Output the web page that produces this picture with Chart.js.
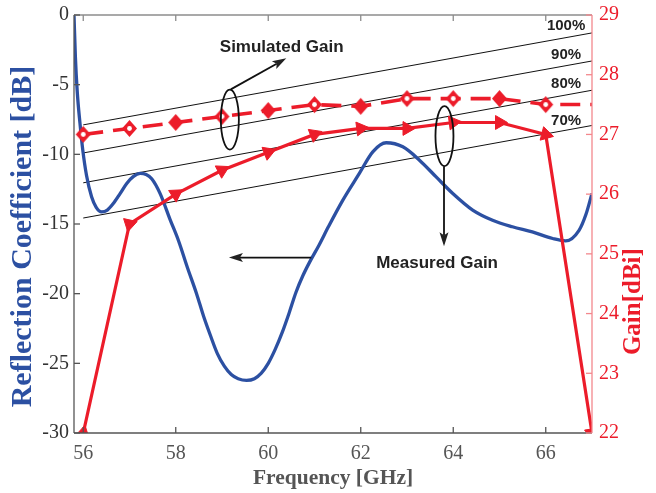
<!DOCTYPE html>
<html>
<head>
<meta charset="utf-8">
<script src="https://cdn.jsdelivr.net/npm/chart.js@4.4.1/dist/chart.umd.min.js"></script>
<style>
  html, body { margin: 0; padding: 0; background: #fff; }
  #wrap { width: 656px; height: 493px; }
</style>
</head>
<body>
<div id="wrap"><canvas id="myChart" width="656" height="493"></canvas></div>
<script>
// Reflection coefficient (blue curve)
var s11Freq = [55.8, 55.83, 55.87, 55.93, 55.99, 56.07, 56.18, 56.28, 56.4, 56.52, 56.65, 56.8, 56.94, 57.08, 57.23, 57.36, 57.48, 57.66, 57.88, 58.06, 58.25, 58.45, 58.6, 58.75, 58.9, 59.05, 59.2, 59.35, 59.53, 59.7, 59.85, 60.0, 60.15, 60.3, 60.45, 60.6, 60.75, 60.9, 61.1, 61.3, 61.61, 61.97, 62.26, 62.55, 62.91, 63.27, 63.63, 63.99, 64.42, 64.85, 65.28, 65.71, 66.15, 66.43, 66.72, 66.87, 67.0];
var s11Db = [0, -3, -5.5, -7.8, -9.7, -11.5, -13.05, -13.8, -14.13, -14.0, -13.53, -12.8, -12.09, -11.6, -11.37, -11.45, -11.75, -12.8, -14.7, -16.2, -18.1, -20.0, -21.6, -23.0, -24.3, -25.2, -25.8, -26.1, -26.22, -26.1, -25.7, -25.0, -24.0, -22.8, -21.4, -19.9, -18.7, -17.7, -16.5, -15.2, -13.3, -11.37, -9.82, -9.17, -9.46, -10.42, -11.62, -12.81, -14.0, -14.73, -15.2, -15.57, -16.04, -16.21, -15.45, -14.3, -12.8];

// Gain curves (right axis)
var gainFreq = [56, 57, 58, 59, 60, 61, 62, 63, 64, 65, 66, 67];
var measuredGain = [22, 25.5, 26.0, 26.4, 26.7, 27.0, 27.1, 27.1, 27.2, 27.2, 27.0, 22];
var simulatedGain = [27.0, 27.1, 27.2, 27.3, 27.4, 27.5, 27.47, 27.6, 27.6, 27.6, 27.5, 27.5];

// aperture efficiency reference lines, gain at both ends
var effLabels = ["100%", "90%", "80%", "70%"];
var effFreq = [56, 67];
var effStart = [27.16, 26.69, 26.19, 25.6];
var effEnd = [28.7, 28.23, 27.74, 27.15];

// tick labels
var xTicks = [56, 58, 60, 62, 64, 66];
var yTicks = [-30, -25, -20, -15, -10, -5, 0];
var y2Ticks = [22, 23, 24, 25, 26, 27, 28, 29];

var BLUE = "#2c50a2";
var RED = "#ec1c2a";
var SERIF = "'Liberation Serif', 'DejaVu Serif', serif";
var SANS = "'Liberation Sans', Arial, sans-serif";

function xy(xs, ys) {
  var out = [];
  for (var i = 0; i < xs.length; i++) out.push({ x: xs[i], y: ys[i] });
  return out;
}

// diamond markers, some with a white dot inside
function diamond(dot) {
  var c = document.createElement("canvas");
  c.width = 17;
  c.height = 19;
  var g = c.getContext("2d");
  g.fillStyle = RED;
  g.beginPath();
  g.moveTo(8.5, 1);
  g.lineTo(16, 9.5);
  g.lineTo(8.5, 18);
  g.lineTo(1, 9.5);
  g.closePath();
  g.fill();
  if (dot) {
    g.fillStyle = "#fff";
    g.beginPath();
    g.arc(8.5, 9.5, 2.4, 0, Math.PI * 2);
    g.fill();
  }
  return c;
}
var diamondDot = diamond(true);
var diamondFull = diamond(false);
var hollowIdx = [0, 1, 3, 5, 7, 8, 10];

// triangles follow the line direction
function triRotation(ctx) {
  var chart = ctx.chart;
  var xs = chart.scales.x, ys = chart.scales.y2;
  var i = ctx.dataIndex;
  var a = i === 0 ? 0 : i - 1;
  var b = i === 0 ? 1 : i;
  var dx = xs.getPixelForValue(gainFreq[b]) - xs.getPixelForValue(gainFreq[a]);
  var dy = ys.getPixelForValue(measuredGain[b]) - ys.getPixelForValue(measuredGain[a]);
  var ang = Math.atan2(dy, dx) * 180 / Math.PI + 90;
  if (i === 1) ang += 180;
  return ang;
}

function seg(ctx, x1, y1, x2, y2) {
  ctx.beginPath();
  ctx.moveTo(x1, y1);
  ctx.lineTo(x2, y2);
  ctx.stroke();
}

function arrow(ctx, x1, y1, x2, y2) {
  var ang = Math.atan2(y2 - y1, x2 - x1);
  var len = 14, half = 4.5;
  var bx = x2 - Math.cos(ang) * len, by = y2 - Math.sin(ang) * len;
  seg(ctx, x1, y1, bx + Math.cos(ang) * 3, by + Math.sin(ang) * 3);
  ctx.beginPath();
  ctx.moveTo(x2, y2);
  ctx.lineTo(bx - Math.sin(ang) * half, by + Math.cos(ang) * half);
  ctx.lineTo(bx + Math.cos(ang) * 3, by + Math.sin(ang) * 3);
  ctx.lineTo(bx + Math.sin(ang) * half, by - Math.cos(ang) * half);
  ctx.closePath();
  ctx.fill();
}

var decor = {
  id: "decor",
  afterDraw: function (chart) {
    var ctx = chart.ctx, a = chart.chartArea;
    var x = chart.scales.x, y = chart.scales.y, y2 = chart.scales.y2;
    var px = function (v) { return x.getPixelForValue(v); };
    var py = function (v) { return y.getPixelForValue(v); };
    ctx.save();

    // box and inward ticks
    ctx.lineWidth = 1.3;
    ctx.strokeStyle = "#8c8c8c";
    seg(ctx, a.left, a.top, a.right, a.top);
    ctx.strokeStyle = "#555";
    seg(ctx, a.left, a.bottom, a.right, a.bottom);
    seg(ctx, a.left, a.top, a.left, a.bottom);
    xTicks.forEach(function (v) {
      seg(ctx, px(v), a.bottom, px(v), a.bottom - 6);
    });
    yTicks.forEach(function (v) {
      seg(ctx, a.left, py(v), a.left + 6, py(v));
    });
    ctx.strokeStyle = "#8c8c8c";
    xTicks.forEach(function (v) {
      seg(ctx, px(v), a.top, px(v), a.top + 6);
    });
    ctx.strokeStyle = "#f3878d";
    seg(ctx, a.right, a.top, a.right, a.bottom);
    y2Ticks.forEach(function (v) {
      var p = y2.getPixelForValue(v);
      seg(ctx, a.right, p, a.right - 6, p);
    });

    // axis titles
    ctx.textAlign = "center";
    ctx.textBaseline = "middle";
    ctx.font = "bold 21.5px " + SERIF;
    ctx.fillStyle = "#555";
    ctx.fillText("Frequency [GHz]", (a.left + a.right) / 2, 478);

    ctx.save();
    ctx.translate(23, py(-15.9));
    ctx.rotate(-Math.PI / 2);
    ctx.font = "bold 30px " + SERIF;
    ctx.fillStyle = BLUE;
    ctx.fillText("Reflection Coefficient [dB]", 0, 0);
    ctx.restore();

    ctx.save();
    ctx.translate(634, y2.getPixelForValue(24.2));
    ctx.rotate(-Math.PI / 2);
    ctx.font = "bold 25px " + SERIF;
    ctx.fillStyle = RED;
    ctx.fillText("Gain[dBi]", 0, 0);
    ctx.restore();

    // annotations
    ctx.fillStyle = "#222";
    ctx.strokeStyle = "#111";
    ctx.font = "bold 17px " + SANS;
    ctx.fillText("Simulated Gain", px(60.29), py(-2.3));
    ctx.fillText("Measured Gain", px(63.65), py(-17.82));
    ctx.font = "bold 15px " + SANS;
    var labelDb = [-0.79, -2.87, -4.96, -7.58];
    effLabels.forEach(function (t, i) {
      ctx.fillText(t, px(66.44), py(labelDb[i]));
    });

    ctx.lineWidth = 1.8;
    ctx.beginPath();
    ctx.ellipse(px(59.17), py(-7.51), 9, 30, 0, 0, Math.PI * 2);
    ctx.stroke();
    ctx.beginPath();
    ctx.ellipse(px(63.81), py(-8.69), 9, 30, 0, 0, Math.PI * 2);
    ctx.stroke();

    arrow(ctx, px(59.19), py(-5.34), px(60.39), py(-3.11));
    arrow(ctx, px(63.8), py(-10.85), px(63.8), py(-16.6));
    arrow(ctx, px(60.93), py(-17.41), px(59.15), py(-17.41));
    ctx.restore();
  }
};

var datasets = [
  {
    data: xy(gainFreq, measuredGain),
    yAxisID: "y2",
    borderColor: RED,
    backgroundColor: RED,
    borderWidth: 3.2,
    pointStyle: "triangle",
    pointRadius: 8,
    pointBorderWidth: 1,
    pointRotation: triRotation,
  },
  {
    data: xy(gainFreq, simulatedGain),
    yAxisID: "y2",
    borderColor: RED,
    borderWidth: 3.6,
    borderDash: [20, 10],
    pointStyle: function (ctx) {
      return hollowIdx.indexOf(ctx.dataIndex) >= 0 ? diamondDot : diamondFull;
    },
    pointRadius: function (ctx) {
      return ctx.dataIndex === gainFreq.length - 1 ? 0 : 8;
    },
  },
  {
    data: xy(s11Freq, s11Db),
    yAxisID: "y",
    borderColor: BLUE,
    borderWidth: 3.3,
    pointRadius: 0,
    cubicInterpolationMode: "monotone",
  },
];

for (var i = 0; i < effLabels.length; i++) {
  datasets.push({
    data: xy(effFreq, [effStart[i], effEnd[i]]),
    yAxisID: "y2",
    borderColor: "#111",
    borderWidth: 1,
    pointRadius: 0,
  });
}

function fixedTicks(list) {
  return function (scale) {
    scale.ticks = list.map(function (v) { return { value: v }; });
  };
}

function fitWidth(w) {
  return function (s) {
    s.width = w;
    s.paddingTop = 0;
    s.paddingBottom = 0;
  };
}

new Chart(document.getElementById("myChart").getContext("2d"), {
  type: "line",
  data: { datasets: datasets },
  plugins: [decor],
  options: {
    responsive: false,
    animation: false,
    layout: { padding: { top: 15, left: 0, right: 0, bottom: 0 } },
    plugins: { legend: { display: false }, tooltip: { enabled: false } },
    scales: {
      x: {
        type: "linear",
        min: 55.8,
        max: 67,
        afterBuildTicks: fixedTicks(xTicks),
        afterFit: function (s) { s.height = 60; s.paddingLeft = 0; s.paddingRight = 0; },
        grid: { display: false, drawTicks: false },
        border: { display: false },
        ticks: { color: "#555", padding: 9, font: { family: SERIF, size: 20 }, maxRotation: 0 },
      },
      y: {
        position: "left",
        min: -30,
        max: 0,
        afterBuildTicks: fixedTicks(yTicks),
        afterFit: fitWidth(74),
        grid: { display: false, drawTicks: false },
        border: { display: false },
        ticks: { color: "#333", padding: 5, font: { family: SERIF, size: 20 } },
      },
      y2: {
        position: "right",
        min: 22,
        max: 29,
        afterBuildTicks: fixedTicks(y2Ticks),
        afterFit: fitWidth(64),
        grid: { display: false, drawTicks: false },
        border: { display: false },
        ticks: { color: RED, padding: 7, font: { family: SERIF, size: 20 } },
      },
    },
  },
});
</script>
</body>
</html>
